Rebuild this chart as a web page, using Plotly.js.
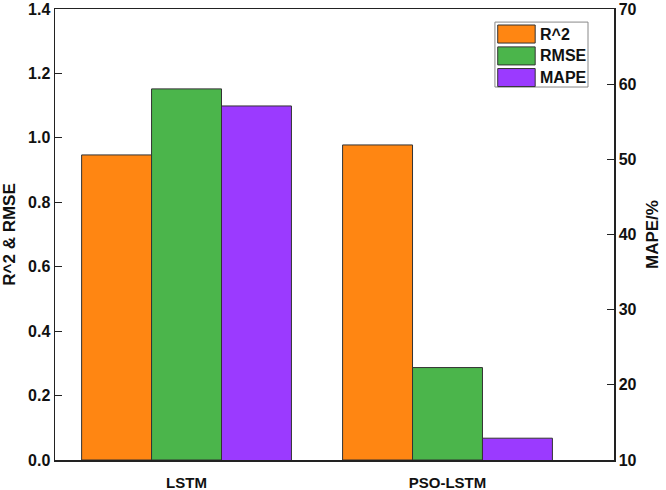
<!DOCTYPE html>
<html>
<head>
<meta charset="utf-8">
<script src="https://cdn.plot.ly/plotly-3.0.1.min.js"></script>
<style>
  html, body { margin: 0; padding: 0; background: #fff; }
  #chart { width: 666px; height: 490px; }
</style>
</head>
<body>
<div id="chart"></div>
<script>
// values
const models = ["LSTM", "PSO-LSTM"];
const r2 = [0.947, 0.978];
const rmse = [1.152, 0.287];
const mape = [57.1, 12.9];   // right axis, %

const seriesNames = ["R^2", "RMSE", "MAPE"];
const seriesColors = ["#FF8612", "#4BB54B", "#9B3AFF"];

const barW = 0.268;
const outline = { color: "#333333", width: 1 };
const fontFam = "Liberation Sans, Arial, sans-serif";

const traces = [
    { x: models, y: r2, name: seriesNames[0], type: "bar", yaxis: "y",
      width: barW, offset: -0.402, marker: { color: seriesColors[0], line: outline } },
    { x: models, y: rmse, name: seriesNames[1], type: "bar", yaxis: "y",
      width: barW, offset: -0.134, marker: { color: seriesColors[1], line: outline } },
    { x: models, y: mape, name: seriesNames[2], type: "bar", yaxis: "y2",
      width: barW, offset: 0.134, marker: { color: seriesColors[2], line: outline } }
];

// hand drawn legend (big swatches like the reference)
const shapes = [{
    type: "rect", xref: "paper", yref: "paper",
    x0: 0.787, x1: 0.9535, y0: 0.827, y1: 0.971,
    line: { color: "#888888", width: 1 }, fillcolor: "#ffffff"
}];
const annotations = [];
const rowTop = [0.9645, 0.916, 0.868];
seriesNames.forEach((n, i) => {
    shapes.push({
        type: "rect", xref: "paper", yref: "paper",
        x0: 0.792, x1: 0.859, y0: rowTop[i] - 0.04, y1: rowTop[i],
        line: { color: "#333333", width: 1 }, fillcolor: seriesColors[i]
    });
    annotations.push({
        xref: "paper", yref: "paper", x: 0.864, y: rowTop[i] - 0.02,
        xanchor: "left", yanchor: "middle", showarrow: false,
        text: n, font: { family: fontFam, size: 16, color: "#111", weight: "bold" }
    });
});

const layout = {
    width: 666, height: 490,
    margin: { l: 55, r: 52, t: 9, b: 30 },
    paper_bgcolor: "#ffffff", plot_bgcolor: "#ffffff",
    font: { family: fontFam, size: 16, color: "#111", weight: "bold" },
    showlegend: false,
    barmode: "overlay",
    xaxis: {
        range: [-0.504, 1.638],
        showline: true, linecolor: "#222", linewidth: 1.5, mirror: true,
        ticks: "", showgrid: false, zeroline: false, ticklabelstandoff: 8,
        tickfont: { family: fontFam, size: 15, weight: "bold" }
    },
    yaxis: {
        range: [0, 1.4], dtick: 0.2, tickformat: ".1f",
        showline: true, linecolor: "#222", linewidth: 1.5,
        ticks: "inside", ticklen: 7, tickwidth: 1.2, tickcolor: "#222",
        showgrid: false, zeroline: false,
        tickfont: { family: fontFam, size: 16, weight: "bold" },
        title: { text: "R^2 & RMSE", standoff: 8, font: { family: fontFam, size: 17, weight: "bold" } }
    },
    yaxis2: {
        overlaying: "y", side: "right",
        range: [10, 70], dtick: 10,
        showline: true, linecolor: "#222", linewidth: 1.5,
        ticks: "inside", ticklen: 7, tickwidth: 1.2, tickcolor: "#222",
        showgrid: false, zeroline: false,
        tickfont: { family: fontFam, size: 16, weight: "bold" },
        title: { text: "MAPE/%", standoff: 10, font: { family: fontFam, size: 17, weight: "bold" } }
    },
    shapes: shapes,
    annotations: annotations
};

Plotly.newPlot("chart", traces, layout, { displayModeBar: false, staticPlot: true });
</script>
</body>
</html>
